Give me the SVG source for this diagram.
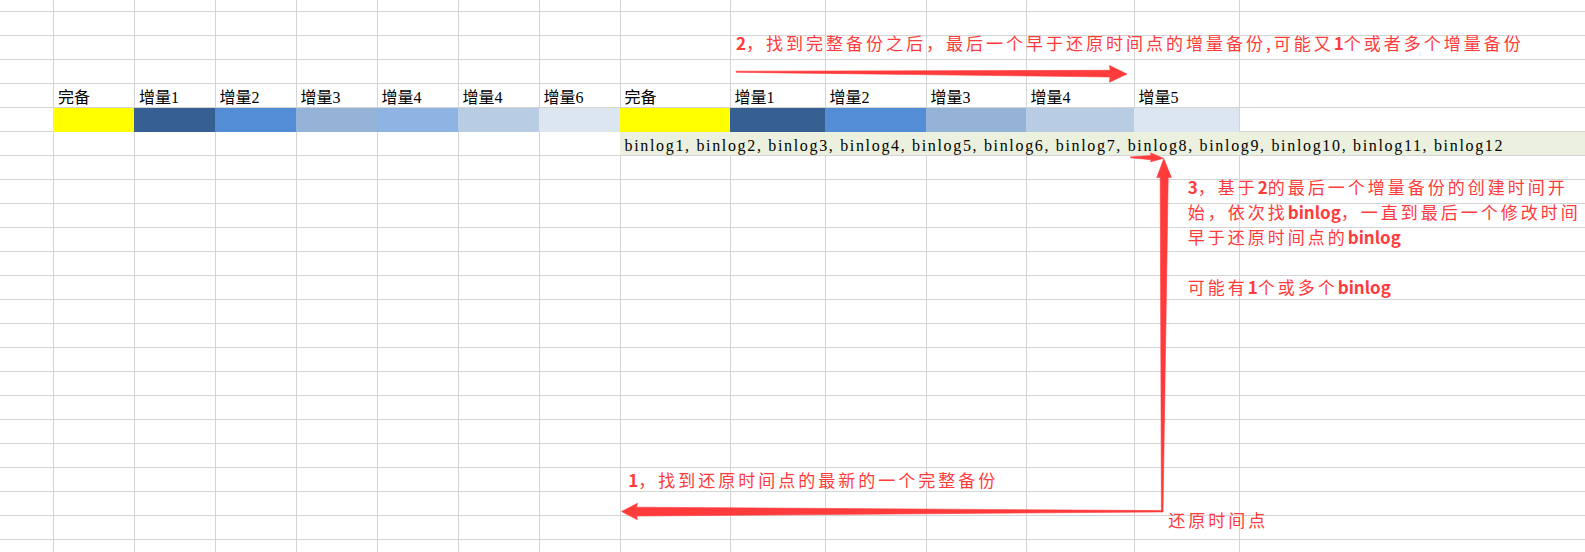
<svg xmlns="http://www.w3.org/2000/svg" width="1585" height="552" viewBox="0 0 1585 552">
<style>
.grid line{stroke:#d4d4d4;stroke-width:1;shape-rendering:crispEdges}
.lbl{font-family:"Liberation Serif","Noto Sans CJK SC",serif;font-size:16px;fill:#000}
.bin{font-family:"Liberation Serif","Noto Sans CJK SC",serif;font-size:16px;fill:#000}
.note{font-family:"Noto Sans CJK SC","Noto Sans",sans-serif;font-size:17px;fill:#ff3b3b;letter-spacing:3px}
.b{font-weight:bold;letter-spacing:0}
.arrow{fill:#ff3b3b;stroke:#ff3b3b;stroke-width:0.6;stroke-linejoin:round}
</style>
<rect width="1585" height="552" fill="#ffffff"/>
<g id="grid" class="grid">
<line x1="53.5" y1="0" x2="53.5" y2="552"/>
<line x1="134.5" y1="0" x2="134.5" y2="552"/>
<line x1="215.5" y1="0" x2="215.5" y2="552"/>
<line x1="296.5" y1="0" x2="296.5" y2="552"/>
<line x1="377.5" y1="0" x2="377.5" y2="552"/>
<line x1="458.5" y1="0" x2="458.5" y2="552"/>
<line x1="539.5" y1="0" x2="539.5" y2="552"/>
<line x1="620.5" y1="0" x2="620.5" y2="552"/>
<line x1="730.5" y1="0" x2="730.5" y2="552"/>
<line x1="825.5" y1="0" x2="825.5" y2="552"/>
<line x1="926.5" y1="0" x2="926.5" y2="552"/>
<line x1="1026.5" y1="0" x2="1026.5" y2="552"/>
<line x1="1134.5" y1="0" x2="1134.5" y2="552"/>
<line x1="1239.5" y1="0" x2="1239.5" y2="552"/>
<line x1="0" y1="11.5" x2="1585" y2="11.5"/>
<line x1="0" y1="35.5" x2="1585" y2="35.5"/>
<line x1="0" y1="59.5" x2="1585" y2="59.5"/>
<line x1="0" y1="83.5" x2="1585" y2="83.5"/>
<line x1="0" y1="107.5" x2="1585" y2="107.5"/>
<line x1="0" y1="131.5" x2="1585" y2="131.5"/>
<line x1="0" y1="155.5" x2="1585" y2="155.5"/>
<line x1="0" y1="179.5" x2="1585" y2="179.5"/>
<line x1="0" y1="203.5" x2="1585" y2="203.5"/>
<line x1="0" y1="227.5" x2="1585" y2="227.5"/>
<line x1="0" y1="251.5" x2="1585" y2="251.5"/>
<line x1="0" y1="275.5" x2="1585" y2="275.5"/>
<line x1="0" y1="299.5" x2="1585" y2="299.5"/>
<line x1="0" y1="323.5" x2="1585" y2="323.5"/>
<line x1="0" y1="347.5" x2="1585" y2="347.5"/>
<line x1="0" y1="371.5" x2="1585" y2="371.5"/>
<line x1="0" y1="395.5" x2="1585" y2="395.5"/>
<line x1="0" y1="419.5" x2="1585" y2="419.5"/>
<line x1="0" y1="443.5" x2="1585" y2="443.5"/>
<line x1="0" y1="467.5" x2="1585" y2="467.5"/>
<line x1="0" y1="491.5" x2="1585" y2="491.5"/>
<line x1="0" y1="515.5" x2="1585" y2="515.5"/>
<line x1="0" y1="539.5" x2="1585" y2="539.5"/>
</g>
<g id="binlog-row">
<rect x="620" y="132" width="965" height="23" fill="#ebf1de"/>
<text class="bin" x="624.5" y="150.5" textLength="878" lengthAdjust="spacing">binlog1, binlog2, binlog3, binlog4, binlog5, binlog6, binlog7, binlog8, binlog9, binlog10, binlog11, binlog12</text>
</g>
<g id="backups-1">
<g id="full-1"><rect x="53" y="108" width="81" height="24" fill="#ffff00"/><text class="lbl" x="58" y="103">完备</text></g>
<g id="inc-1-1"><rect x="134" y="108" width="81" height="24" fill="#366092"/><text class="lbl" x="139" y="103">增量1</text></g>
<g id="inc-1-2"><rect x="215" y="108" width="81" height="24" fill="#538dd5"/><text class="lbl" x="219.5" y="103">增量2</text></g>
<g id="inc-1-3"><rect x="296" y="108" width="81" height="24" fill="#95b3d7"/><text class="lbl" x="300.5" y="103">增量3</text></g>
<g id="inc-1-4"><rect x="377" y="108" width="81" height="24" fill="#8db4e2"/><text class="lbl" x="381.5" y="103">增量4</text></g>
<g id="inc-1-5"><rect x="458" y="108" width="81" height="24" fill="#b8cce4"/><text class="lbl" x="462.5" y="103">增量4</text></g>
<g id="inc-1-6"><rect x="539" y="108" width="81" height="24" fill="#dce6f1"/><text class="lbl" x="543.5" y="103">增量6</text></g>
</g>
<g id="backups-2">
<g id="full-2"><rect x="620" y="108" width="110" height="24" fill="#ffff00"/><text class="lbl" x="624.5" y="103">完备</text></g>
<g id="inc-2-1"><rect x="730" y="108" width="95" height="24" fill="#366092"/><text class="lbl" x="734.5" y="103">增量1</text></g>
<g id="inc-2-2"><rect x="825" y="108" width="101" height="24" fill="#538dd5"/><text class="lbl" x="829.5" y="103">增量2</text></g>
<g id="inc-2-3"><rect x="926" y="108" width="100" height="24" fill="#95b3d7"/><text class="lbl" x="930.5" y="103">增量3</text></g>
<g id="inc-2-4"><rect x="1026" y="108" width="108" height="24" fill="#b8cce4"/><text class="lbl" x="1030.5" y="103">增量4</text></g>
<g id="inc-2-5"><rect x="1134" y="108" width="105" height="24" fill="#dce6f1"/><text class="lbl" x="1138.5" y="103">增量5</text></g>
</g>
<g id="note-2">
<text class="note" x="736" y="49.8"><tspan class="b">2</tspan>，找到完整备份之后，最后一个早于还原时间点的增量备份,可能又<tspan class="b">1</tspan>个或者多个增量备份</text>
</g>
<g id="note-3">
<text class="note" x="1187.7" y="193.8"><tspan class="b">3</tspan>，基于<tspan class="b">2</tspan>的最后一个增量备份的创建时间开</text>
<text class="note" x="1187.7" y="218.8">始，依次找<tspan class="b">binlog</tspan>，一直到最后一个修改时间</text>
<text class="note" x="1187.7" y="243.8">早于还原时间点的<tspan class="b">binlog</tspan></text>
<text class="note" x="1187.7" y="293.8">可能有<tspan class="b">1</tspan>个或多个<tspan class="b">binlog</tspan></text>
</g>
<g id="note-1">
<text class="note" x="628.2" y="487"><tspan class="b">1</tspan>，找到还原时间点的最新的一个完整备份</text>
</g>
<g id="restore-point">
<text class="note" x="1168.3" y="527">还原时间点</text>
</g>
<g id="connectors">
<path class="arrow" d="M736,71.2 L1110,70.3 L1109.5,65.5 L1127,74 L1109.5,82.3 L1110,77 L736,72.3 Z"/>
<path class="arrow" d="M621.5,511.5 L637.5,503.3 L636.5,507.2 L1162,510.6 L1162,511.9 L636.5,516 L637.5,519.8 Z"/>
<path class="arrow" d="M1161.4,512 L1160.2,177.3 L1156.8,177.6 L1163.8,158.6 L1171.4,177.6 L1168.2,177.3 L1163,512 Z"/>
<path class="arrow" d="M1130.5,156.9 L1151,155.6 L1150.6,152.9 L1163.5,158.3 L1150.6,161.8 L1151,159.7 L1130.5,157.8 Z"/>
</g>
</svg>
